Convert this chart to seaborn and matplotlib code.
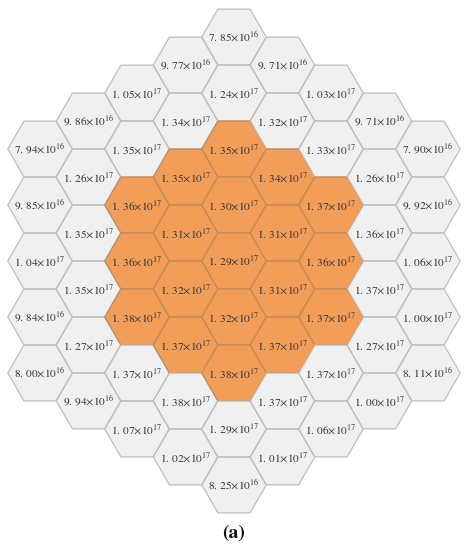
import numpy as np
import matplotlib
matplotlib.use("Agg")
import matplotlib.pyplot as plt
from matplotlib.patches import RegularPolygon
import seaborn as sns

# Values per column (left to right), each listed top to bottom: (mantissa, exponent)
col_m4 = [(7.94, 16), (9.85, 16), (1.04, 17), (9.84, 16), (8.00, 16)]
col_m3 = [(9.86, 16), (1.26, 17), (1.35, 17), (1.35, 17), (1.27, 17), (9.94, 16)]
col_m2 = [(1.05, 17), (1.35, 17), (1.36, 17), (1.36, 17), (1.38, 17), (1.37, 17), (1.07, 17)]
col_m1 = [(9.77, 16), (1.34, 17), (1.35, 17), (1.31, 17), (1.32, 17), (1.37, 17), (1.38, 17), (1.02, 17)]
col_0 = [(7.85, 16), (1.24, 17), (1.35, 17), (1.30, 17), (1.29, 17), (1.32, 17), (1.38, 17), (1.29, 17), (8.25, 16)]
col_p1 = [(9.71, 16), (1.32, 17), (1.34, 17), (1.31, 17), (1.31, 17), (1.37, 17), (1.37, 17), (1.01, 17)]
col_p2 = [(1.03, 17), (1.33, 17), (1.37, 17), (1.36, 17), (1.37, 17), (1.37, 17), (1.06, 17)]
col_p3 = [(9.71, 16), (1.26, 17), (1.36, 17), (1.37, 17), (1.27, 17), (1.00, 17)]
col_p4 = [(7.90, 16), (9.92, 16), (1.06, 17), (1.00, 17), (8.11, 16)]
columns = [col_m4, col_m3, col_m2, col_m1, col_0, col_p1, col_p2, col_p3, col_p4]

# Highlighted (core) cells: for each column, indices (top to bottom) that are orange
highlight = [[], [], [2, 3, 4], [2, 3, 4, 5], [2, 3, 4, 5, 6], [2, 3, 4, 5], [2, 3, 4], [], []]

caption = "(a)"

sns.set_theme(style="white")
plt.rcParams["font.family"] = ["STIXGeneral", "DejaVu Serif"]
plt.rcParams["mathtext.fontset"] = "stix"

fig = plt.figure(figsize=(4.69, 5.5), dpi=100)
ax = fig.add_axes([0, 0, 1, 1])
ax.set_xlim(0, 469)
ax.set_ylim(550, 0)
ax.set_aspect("equal")
ax.axis("off")

x0, y0 = 234.0, 261.0
dx = 48.5
R = dx / 1.5
dy = np.sqrt(3) * R

orange = "#F39E58"
orange_edge = "#C98A55"
gray = "#F0F0F0"
gray_edge = "#BEBEBE"

ncol = len(columns)
for ci, col in enumerate(columns):
    c = ci - (ncol - 1) // 2
    n = len(col)
    for ri, (m, e) in enumerate(col):
        x = x0 + c * dx
        y = y0 + (ri - (n - 1) / 2) * dy
        hot = ri in highlight[ci]
        hexp = RegularPolygon((x, y), numVertices=6, radius=R * 0.995,
                              orientation=np.pi / 6,
                              facecolor=orange if hot else gray,
                              edgecolor=orange_edge if hot else gray_edge,
                              linewidth=0.9)
        ax.add_patch(hexp)
        s = f"{m:.2f}".replace(".", ". ")
        ax.text(x, y, s + r"$\times$10$^{%d}$" % e, ha="center", va="center",
                fontsize=8.2, color="#333333")

ax.text(x0, 533, caption, ha="center", va="center", fontsize=14,
        fontweight="bold", color="#111111")

fig.savefig("out.png", dpi=100)
